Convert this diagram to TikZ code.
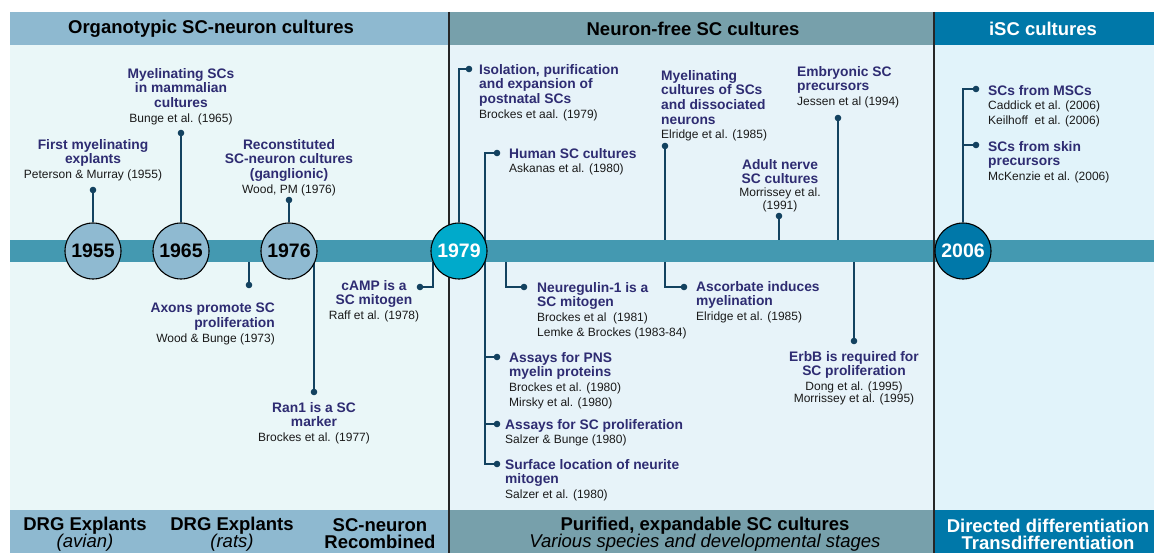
\documentclass[tikz,border=0pt]{standalone}
\usepackage{fontspec}
\setmainfont{Liberation Sans}
\AtBeginDocument{\lineskiplimit=-100pt}
\pgfdeclarelayer{bglayer}
\pgfdeclarelayer{midlayer}
\pgfsetlayers{bglayer,midlayer,main}
\definecolor{hdA}{HTML}{8EB9D0}
\definecolor{hdB}{HTML}{77A0AB}
\definecolor{hdC}{HTML}{0078A9}
\definecolor{bdA}{HTML}{EAF7F8}
\definecolor{bdB}{HTML}{E7F3F9}
\definecolor{bdC}{HTML}{E1F3FA}
\definecolor{barc}{HTML}{4499B1}
\definecolor{circA}{HTML}{8FBAD1}
\definecolor{circB}{HTML}{00AACB}
\definecolor{circC}{HTML}{0078A9}
\definecolor{lnc}{HTML}{134260}
\definecolor{ttl}{HTML}{2E2C72}
\definecolor{refc}{HTML}{1A1A1A}
\newcommand\TitleLn[1]{{\fontsize{13.8}{14.7}\selectfont\bfseries\color{ttl}#1}}
\tikzset{
  item/.style={inner sep=0pt, font=\fontsize{12}{14.7}\selectfont, text=refc},
  itemL/.style={item, align=left, anchor=north west},
  itemC/.style={item, align=center, anchor=north},
  itemR/.style={item, align=right, anchor=north east},
  conn/.style={draw=lnc, line width=2pt},
  dotc/.style={fill=lnc},
  yearnode/.style={circle, minimum size=56pt, inner sep=0pt, draw=black, line width=1.1pt, font=\fontsize{19.5}{20}\selectfont\bfseries},
  headtxt/.style={inner sep=0pt, font=\fontsize{18.5}{20}\selectfont\bfseries},
  foottxt/.style={inner sep=0pt, align=center, font=\fontsize{18.5}{17}\selectfont},
  divider/.style={draw=black!85, line width=1.2pt}
}
\begin{document}
\begin{tikzpicture}[x=1pt,y=-1pt]
\useasboundingbox (0,0) rectangle (1154,553);
\begin{pgfonlayer}{bglayer}
\fill[white] (0,0) rectangle (1154,553);
\fill[bdA] (10,45) rectangle (449,510);
\fill[bdB] (449,45) rectangle (934,510);
\fill[bdC] (934,45) rectangle (1154,510);
\fill[hdA] (10,12) rectangle (449,45);
\fill[hdB] (449,12) rectangle (934,45);
\fill[hdC] (934,12) rectangle (1154,45);
\fill[hdA] (10,510) rectangle (449,553);
\fill[hdB] (449,510) rectangle (934,553);
\fill[hdC] (934,510) rectangle (1154,553);
\fill[barc] (10,240) rectangle (1154,262);
\draw[divider] (449,12) -- (449,553);
\draw[divider] (934,12) -- (934,553);
\end{pgfonlayer}
% headers
\node[headtxt] (h1) at (211,29) {Organotypic SC-neuron cultures};
\node[headtxt] (h2) at (693,29) {Neuron-free SC cultures};
\node[headtxt, text=white] (h3) at (1043,29) {iSC cultures};
% footers
\node[foottxt] (f1) at (85,534) {\textbf{DRG Explants}\\\textit{(avian)}};
\node[foottxt] (f2) at (232,534) {\textbf{DRG Explants}\\\textit{(rats)}};
\node[foottxt] (f3) at (380,534) {\textbf{SC-neuron}\\\textbf{Recombined}};
\node[foottxt] (f4) at (705,534) {\textbf{Purified, expandable SC cultures}\\\textit{Various species and developmental stages}};
\node[foottxt, text=white] (f5) at (1048,534) {\textbf{Directed differentiation}\\\textbf{Transdifferentiation}};
% coordinates for connector ends
\coordinate (d1955) at (93,190);
\coordinate (d1965) at (181,133);
\coordinate (d1976) at (289,200);
\coordinate (b1973) at (249,262);
\coordinate (dax) at (249,285);
\coordinate (b1977) at (314,262);
\coordinate (dran) at (314,392);
\coordinate (c1978) at (433,262);
\coordinate (dcamp) at (420,287);
\coordinate (diso) at (469,69);
\coordinate (htop) at (485,153);
\coordinate (hbot) at (485,464);
\coordinate (dhum) at (497,153);
\coordinate (dpns) at (497,357);
\coordinate (dprol) at (497,424);
\coordinate (dsurf) at (497,464);
\coordinate (b1981) at (506,262);
\coordinate (dneu) at (524,287);
\coordinate (dmyc) at (665,146);
\coordinate (t1985) at (665,240);
\coordinate (b1985) at (665,262);
\coordinate (dasc) at (684,287);
\coordinate (dadult) at (779,216);
\coordinate (t1991) at (779,240);
\coordinate (demb) at (838,118);
\coordinate (t1994) at (838,240);
\coordinate (b1995) at (854,262);
\coordinate (derb) at (854,341);
\coordinate (dmsc) at (976,89);
\coordinate (dskin) at (976,145);
% year nodes
\node[yearnode, fill=circA] (y1955) at (93,251) {1955};
\node[yearnode, fill=circA] (y1965) at (181,251) {1965};
\node[yearnode, fill=circA] (y1976) at (289,251) {1976};
\node[yearnode, fill=circB, text=white] (y1979) at (459,251) {1979};
\node[yearnode, fill=circC, text=white] (y2006) at (963,251) {2006};
% connectors (on a layer under the circles)
\begin{pgfonlayer}{midlayer}
\draw[conn] (y1955) -- (d1955);
\draw[conn] (y1965) -- (d1965);
\draw[conn] (y1976) -- (d1976);
\draw[conn] (b1973) -- (dax);
\draw[conn] (b1977) -- (dran);
\draw[conn] (c1978) |- (dcamp);
\draw[conn] (y1979) |- (diso);
\draw[conn] (dhum) -- (htop) -- (hbot) -- (dsurf);
\draw[conn] (dpns -| htop) -- (dpns);
\draw[conn] (dprol -| htop) -- (dprol);
\draw[conn] (b1981) |- (dneu);
\draw[conn] (dmyc) -- (t1985);
\draw[conn] (b1985) |- (dasc);
\draw[conn] (dadult) -- (t1991);
\draw[conn] (demb) -- (t1994);
\draw[conn] (b1995) -- (derb);
\draw[conn] (y2006) |- (dmsc);
\draw[conn] (dskin -| y2006) -- (dskin);
\foreach \d in {d1955,d1965,d1976,dax,dran,dcamp,diso,dhum,dpns,dprol,dsurf,dneu,dmyc,dasc,dadult,demb,derb,dmsc,dskin}
  \fill[dotc] (\d) circle (3.3);
\end{pgfonlayer}
% items
\node[itemC] (i1) at (93,139) {\TitleLn{First myelinating}\\\TitleLn{explants}\\Peterson \& Murray (1955)};
\node[itemC] (i2) at (181,68) {\TitleLn{Myelinating SCs}\\\TitleLn{in mammalian}\\\TitleLn{cultures}\\Bunge et al. (1965)};
\node[itemC] (i3) at (289,139) {\TitleLn{Reconstituted}\\\TitleLn{SC-neuron cultures}\\\TitleLn{(ganglionic)}\\Wood, PM (1976)};
\node[itemR] (i4) at (275,303) {\TitleLn{Axons promote SC}\\\TitleLn{proliferation}\\Wood \& Bunge (1973)};
\node[itemC] (i5) at (374,280) {\TitleLn{cAMP is a}\\\TitleLn{SC mitogen}\\Raff et al. (1978)};
\node[itemC] (i6) at (314,402) {\TitleLn{Ran1 is a SC}\\\TitleLn{marker}\\Brockes et al. (1977)};
\node[itemL] (i7) at (479,64) {\TitleLn{Isolation, purification}\\\TitleLn{and expansion of}\\\TitleLn{postnatal SCs}\\Brockes et aal. (1979)};
\node[itemL] (i8) at (509,148) {\TitleLn{Human SC cultures}\\Askanas et al. (1980)};
\node[itemL] (i9) at (661,70) {\TitleLn{Myelinating}\\\TitleLn{cultures of SCs}\\\TitleLn{and dissociated}\\\TitleLn{neurons}\\Elridge et al. (1985)};
\node[itemL] (i10) at (797,66) {\TitleLn{Embryonic SC}\\\TitleLn{precursors}\\Jessen et al (1994)};
\node[itemC] (i11) at (780,159) {\TitleLn{Adult nerve}\\\TitleLn{SC cultures}\\[-2.5pt]Morrissey et al.\\[-1.5pt](1991)};
\node[itemL] (i12) at (537,282) {\TitleLn{Neuregulin-1 is a}\\\TitleLn{SC mitogen}\\Brockes et al\ \ (1981)\\Lemke \& Brockes (1983-84)};
\node[itemL] (i13) at (696,281) {\TitleLn{Ascorbate induces}\\\TitleLn{myelination}\\Elridge et al. (1985)};
\node[itemC] (i14) at (854,351) {\TitleLn{ErbB is required for}\\\TitleLn{SC proliferation}\\Dong et al. (1995)\\[-2.5pt]Morrissey et al. (1995)};
\node[itemL] (i15) at (509,352) {\TitleLn{Assays for PNS}\\\TitleLn{myelin proteins}\\Brockes et al. (1980)\\Mirsky et al. (1980)};
\node[itemL] (i16) at (505,419) {\TitleLn{Assays for SC proliferation}\\Salzer \& Bunge (1980)};
\node[itemL] (i17) at (505,459) {\TitleLn{Surface location of neurite}\\\TitleLn{mitogen}\\Salzer et al. (1980)};
\node[itemL] (i18) at (988,85) {\TitleLn{SCs from MSCs}\\Caddick et al. (2006)\\Keilhoff\ \ et al. (2006)};
\node[itemL] (i19) at (988,141) {\TitleLn{SCs from skin}\\\TitleLn{precursors}\\McKenzie et al. (2006)};
\end{tikzpicture}
\end{document}
